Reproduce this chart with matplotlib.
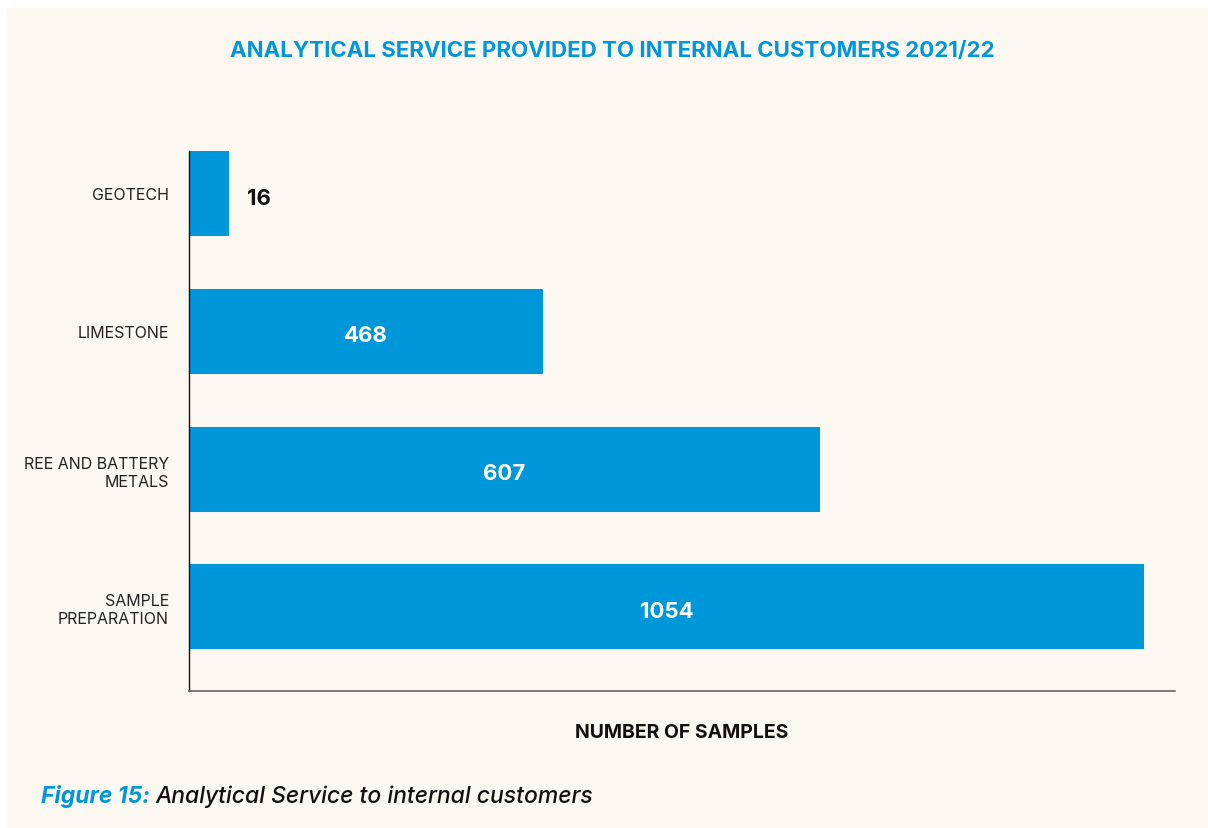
import matplotlib.pyplot as plt
from matplotlib.patches import Rectangle

# Daten (von oben nach unten wie im Bild)
kategorien = ["GEOTECH", "LIMESTONE", "REE AND BATTERY\nMETALS", "SAMPLE\nPREPARATION"]
werte = [16, 468, 607, 1054]
# Balkenlaengen (Original ist nicht massstabsgetreu)
balken_laenge = [44, 391, 696, 1054]
x_max = 1088

blau = "#0096DA"
creme = "#FBF8F1"
plt.rcParams["font.family"] = ["Inter", "DejaVu Sans"]

fig = plt.figure(figsize=(12.08, 8.29), dpi=100, facecolor="white")
# cremefarbene Flaeche mit weissem Rand oben/links
fig.patches.append(Rectangle((7 / 1208, 0), 1, 1 - 9 / 829, transform=fig.transFigure,
                             facecolor=creme, edgecolor="none", zorder=-10))

ax = fig.add_axes([189 / 1208, 137 / 829, 986 / 1208, 540 / 829])
ax.set_facecolor("none")

y = [3, 2, 1, 0]
ax.barh(y, balken_laenge, height=0.616, color=blau)

for yi, laenge, w in zip(y, balken_laenge, werte):
    if laenge < 100:
        ax.text(laenge + 20, yi - 0.03, str(w), ha="left", va="center", fontsize=16,
                fontweight="bold", color="#111111")
    else:
        ax.text(laenge / 2, yi - 0.03, str(w), ha="center", va="center", fontsize=16,
                fontweight="bold", color="white")

ax.set_xlim(0, x_max)
ax.set_ylim(-0.61, 3.308)
ax.set_yticks(y)
ax.set_yticklabels(kategorien, fontsize=11.5, color="#222222", linespacing=1.25)
ax.set_xticks([])
ax.tick_params(axis="y", length=0, pad=14.4)
for s in ["top", "right"]:
    ax.spines[s].set_visible(False)
ax.spines["left"].set_color("#111111")
ax.spines["bottom"].set_color("#666666")
ax.spines["left"].set_linewidth(1.0)
ax.spines["bottom"].set_linewidth(1.2)

fig.text(612 / 1208, 1 - 51 / 829, "ANALYTICAL SERVICE PROVIDED TO INTERNAL CUSTOMERS 2021/22",
         ha="center", va="center", fontsize=16, fontweight="bold", color=blau)
fig.text(682 / 1208, 1 - 733 / 829, "NUMBER OF SAMPLES", ha="center", va="center",
         fontsize=14, fontweight="bold", color="#111111")

t1 = fig.text(41 / 1208, 1 - 797 / 829, "Figure 15:", ha="left", va="center",
              fontsize=16.5, fontweight="bold", fontstyle="italic", color=blau)
fig.canvas.draw()
bb = t1.get_window_extent()
fig.text(bb.x1 / 1208 + 6 / 1208, 1 - 797 / 829, "Analytical Service to internal customers",
         ha="left", va="center", fontsize=16.5, fontstyle="italic", fontweight="medium",
         color="#111111")

fig.savefig("out.png", dpi=100, facecolor="white")
